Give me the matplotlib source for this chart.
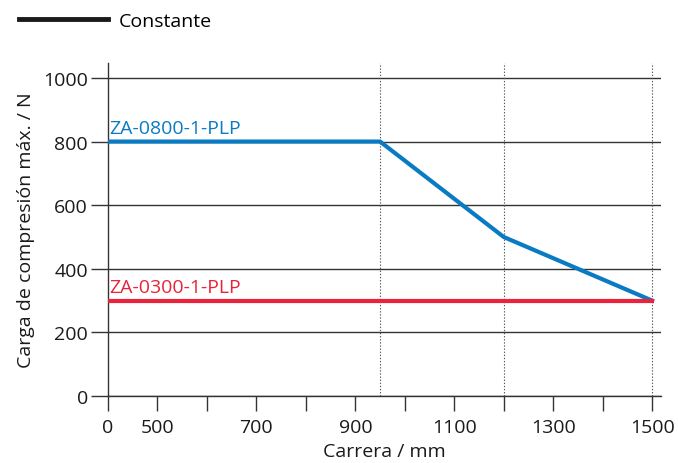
import numpy as np
import matplotlib
matplotlib.use("Agg")
import matplotlib.pyplot as plt
from matplotlib.lines import Line2D

plt.rcParams['font.family'] = ['Open Sans', 'DejaVu Sans']

# Data
stroke_0800 = [0, 950, 1200, 1500]
force_0800 = [800, 800, 500, 300]
stroke_0300 = [0, 1500]
force_0300 = [300, 300]
label_0800 = "ZA-0800-1-PLP"
label_0300 = "ZA-0300-1-PLP"
x_ticks = [0, 500, 600, 700, 800, 900, 1000, 1100, 1200, 1300, 1400, 1500]
x_ticklabels = ["0", "500", "", "700", "", "900", "", "1100", "", "1300", "", "1500"]
y_ticks = [0, 200, 400, 600, 800, 1000]
ref_lines = [950, 1200, 1500]

blue = "#0a7bc2"
red = "#e8233b"
dark = "#333333"
fs = 14


def fwd(x):
    x = np.asarray(x, dtype=float)
    return np.where(x < 500, 400 + x / 5.0, x)


def inv(y):
    y = np.asarray(y, dtype=float)
    return np.where(y < 500, (y - 400) * 5.0, y)


fig = plt.figure(figsize=(6.78, 4.64), dpi=100)
ax = fig.add_axes([108 / 678, 67 / 464, (661 - 108) / 678, (397 - 64) / 464])
ax.set_xscale('function', functions=(fwd, inv))
ax.set_xlim(0, 1518)
ax.set_ylim(0, 1047)

for s in ['top', 'right']:
    ax.spines[s].set_visible(False)
ax.spines['left'].set_color(dark)
ax.spines['bottom'].set_color(dark)
ax.spines['left'].set_linewidth(1.0)
ax.spines['bottom'].set_linewidth(1.0)

ax.set_yticks(y_ticks)
ax.set_xticks(x_ticks)
ax.set_xticklabels(x_ticklabels)
ax.tick_params(axis='y', length=12.5, width=1.0, color=dark, direction='out', pad=2,
               labelsize=fs, labelcolor='#1a1a1a')
ax.tick_params(axis='x', length=11, width=1.0, color=dark, direction='out', pad=5,
               labelsize=fs, labelcolor='#1a1a1a')
ax.yaxis.grid(True, color=dark, linewidth=1.0)
ax.set_axisbelow(True)

for xv in ref_lines:
    ax.axvline(xv, color='#555555', linestyle=(0, (1.2, 1.6)), linewidth=0.8, zorder=1)

ax.plot(stroke_0800, force_0800, color=blue, linewidth=3, solid_joinstyle='miter', zorder=3)
ax.plot(stroke_0300, force_0300, color=red, linewidth=3, zorder=3)

ax.text(15, force_0800[0] + 14, label_0800, color=blue, fontsize=fs, va='bottom', ha='left')
ax.text(15, force_0300[0] + 14, label_0300, color=red, fontsize=fs, va='bottom', ha='left')

ax.set_xlabel("Carrera / mm", fontsize=fs, color='#1a1a1a', labelpad=4)
ax.set_ylabel("Carga de compresión máx. / N", fontsize=fs, color='#1a1a1a', labelpad=6)

fig.legend(handles=[Line2D([], [], color='#1a1a1a', linewidth=3.5)], labels=["Constante"],
           loc='upper left', bbox_to_anchor=(15 / 678, 1 - 9 / 464), frameon=False,
           fontsize=fs, handlelength=4.6, handletextpad=0.55, borderpad=0.2, borderaxespad=0)

fig.savefig("out.png", dpi=100)
